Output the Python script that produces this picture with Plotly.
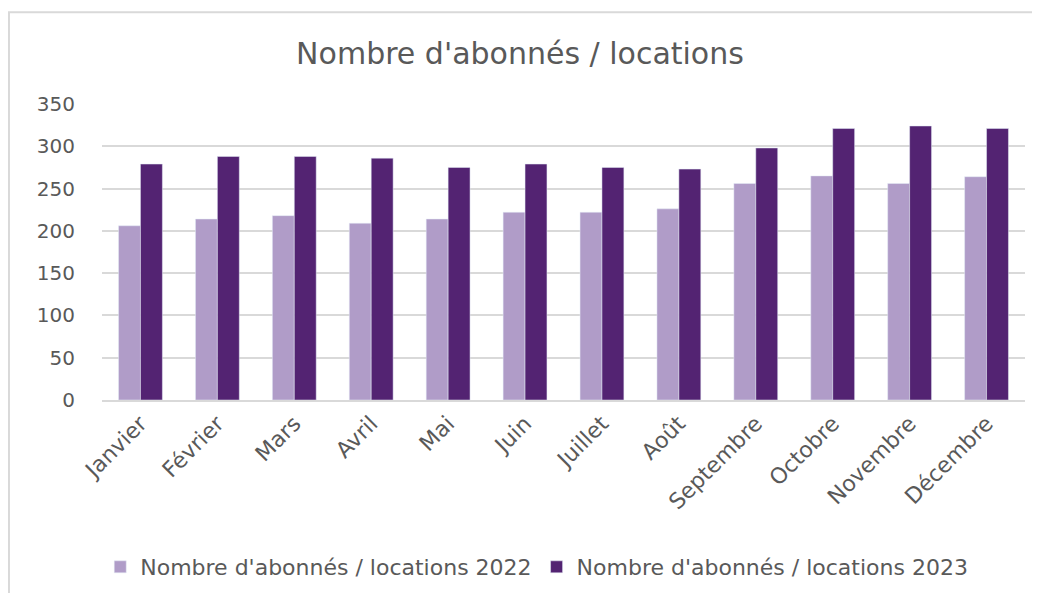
import plotly.graph_objects as go

months = ["Janvier", "Février", "Mars", "Avril", "Mai", "Juin", "Juillet",
          "Août", "Septembre", "Octobre", "Novembre", "Décembre"]
subs_2022 = [206, 214, 218, 209, 214, 222, 222, 226, 256, 265, 256, 264]
subs_2023 = [279, 288, 288, 286, 275, 279, 275, 273, 298, 321, 324, 321]

FONT = "DejaVu Sans"
GREY = "#595959"

fig = go.Figure()
fig.add_trace(go.Bar(x=months, y=subs_2022, name="Nombre d'abonnés / locations 2022",
                     marker_color="#b09cc8"))
fig.add_trace(go.Bar(x=months, y=subs_2023, name="Nombre d'abonnés / locations 2023",
                     marker_color="#532372"))

# page body has an 8px margin, so the figure is a bit smaller than the window
fig.update_layout(
    width=1024, height=585,
    margin=dict(l=94, r=7, t=96, b=192),
    paper_bgcolor="white", plot_bgcolor="white",
    font=dict(family=FONT, size=19, color=GREY),
    title={'text': "Nombre d'abonnés / locations", 'x': 0.5, 'y': 0.923,
           'xanchor': 'center', 'yanchor': 'middle',
           'font': dict(family=FONT, size=30, color=GREY)},
    bargap=0.43, bargroupgap=0,
    showlegend=True,
    legend=dict(orientation="h", x=0.471, y=-0.559, xanchor="center", yanchor="middle",
                font=dict(family=FONT, size=22, color=GREY), itemwidth=30),
    xaxis=dict(tickangle=-45, showgrid=False, showline=True, linecolor="#d9d9d9",
               linewidth=2, ticks="", tickfont=dict(size=22, color=GREY)),
    yaxis=dict(range=[0, 350], dtick=50, showgrid=True, gridcolor="#d9d9d9",
               gridwidth=2, zeroline=False, showline=False, ticks="",
               ticklabelstandoff=26, tickfont=dict(size=20, color=GREY)),
    shapes=[dict(type="rect", xref="paper", yref="paper",
                 x0=-0.1008, x1=1.03, y0=-0.7, y1=1.3098,
                 line=dict(color="#d9d9d9", width=2), fillcolor="rgba(0,0,0,0)",
                 layer="below")],
)

fig.write_html("out.html")
